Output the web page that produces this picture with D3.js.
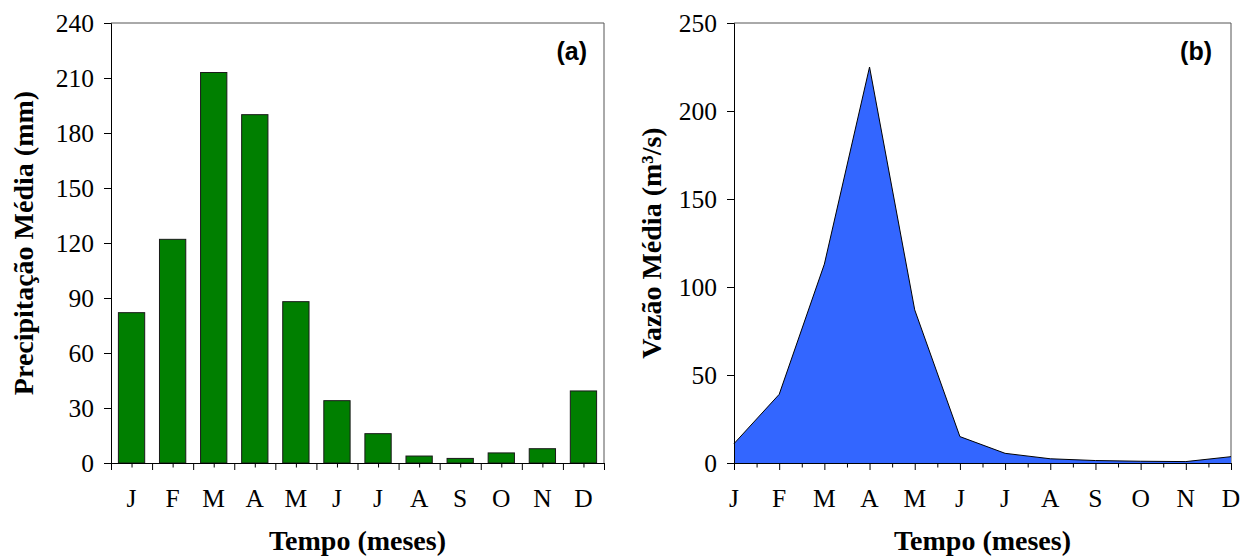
<!DOCTYPE html>
<html><head><meta charset="utf-8">
<script src="https://cdn.jsdelivr.net/npm/d3@7"></script>
<style>
html,body{margin:0;padding:0;background:#fff;}
svg{display:block;}
</style></head>
<body>
<svg id="chart" width="1240" height="556"></svg>
<script>
const months = ["J","F","M","A","M","J","J","A","S","O","N","D"];
const precip = [82, 122, 213, 190, 88, 34, 16, 3.8, 2.5, 5.5, 7.8, 39.3];
const flow = [11, 39, 113, 225, 87, 15, 5.5, 2.4, 1.4, 1.0, 0.8, 3.6];
const precipTicks = [0, 30, 60, 90, 120, 150, 180, 210, 240];
const flowTicks = [0, 50, 100, 150, 200, 250];

const svg = d3.select("#chart");
const serif = "'Liberation Serif','Times New Roman',serif";
const sans = "'Liberation Sans',Arial,sans-serif";
const FS = 25.5;
const TS = 28;

// ---------- Panel (a) ----------
const A = {l:111, r:604, t:23, b:463};
const idx = d3.range(12);
const xa = d3.scaleBand().domain(idx).range([A.l, A.r]).paddingInner(0.36).paddingOuter(0.18);
const xaEdge = d3.scaleLinear().domain([0,12]).range([A.l, A.r]);
const ya = d3.scaleLinear().domain([0,240]).range([A.b, A.t]);

const ga = svg.append("g");
ga.append("path").attr("d", `M${A.l},${A.t}H${A.r}V${A.b}`).attr("fill","none").attr("stroke","#555").attr("stroke-width",1);

ga.selectAll("rect.bar").data(precip).join("rect")
  .attr("class","bar")
  .attr("x",(d,i)=>xa(i))
  .attr("width",xa.bandwidth())
  .attr("y",d=>ya(d))
  .attr("height",d=>ya(0)-ya(d))
  .attr("fill","#007f00")
  .attr("stroke","#1a1a1a").attr("stroke-width",1);

const yAxA = ga.append("g").attr("transform",`translate(${A.l},0)`)
  .call(d3.axisLeft(ya).tickValues(precipTicks).tickSize(7).tickPadding(10));
yAxA.select(".domain").attr("stroke","#000");
yAxA.selectAll("text").attr("font-family",serif).attr("font-size",FS).attr("fill","#000").attr("dy","0.34em");

const xAxA = ga.append("g").attr("transform",`translate(0,${A.b})`)
  .call(d3.axisBottom(xaEdge).tickValues(d3.range(13)).tickSize(7).tickFormat(""));
xAxA.select(".domain").attr("stroke","#000");
ga.append("g").attr("transform",`translate(0,${A.b})`)
  .call(d3.axisBottom(xaEdge).tickValues(d3.range(12).map(i=>i+0.5)).tickSize(4.5).tickFormat(""))
  .call(g=>g.select(".domain").remove());
ga.selectAll("text.mlab").data(months).join("text").attr("class","mlab")
  .attr("x",(d,i)=>xaEdge(i+0.5)).attr("y",507)
  .attr("text-anchor","middle").attr("font-family",serif).attr("font-size",FS).text(d=>d);

ga.append("text").attr("x",(A.l+A.r)/2).attr("y",550).attr("text-anchor","middle")
  .attr("font-family",serif).attr("font-weight","bold").attr("font-size",TS).text("Tempo (meses)");
ga.append("text").attr("transform",`translate(33,${(A.t+A.b)/2}) rotate(-90)`).attr("text-anchor","middle")
  .attr("font-family",serif).attr("font-weight","bold").attr("font-size",TS).text("Precipitação Média (mm)");
ga.append("text").attr("x",587).attr("y",60).attr("text-anchor","end")
  .attr("font-family",sans).attr("font-weight","bold").attr("font-size",25).text("(a)");

// ---------- Panel (b) ----------
const B = {l:734, r:1231, t:23, b:463};
const xb = d3.scaleLinear().domain([0,11]).range([B.l, B.r]);
const yb = d3.scaleLinear().domain([0,250]).range([B.b, B.t]);
const gb = svg.append("g");
gb.append("path").attr("d", `M${B.l},${B.t}H${B.r}V${B.b}`).attr("fill","none").attr("stroke","#555").attr("stroke-width",1);

const area = d3.area().x((d,i)=>xb(i)).y0(yb(0)).y1(d=>yb(d));
const line = d3.line().x((d,i)=>xb(i)).y(d=>yb(d));
gb.append("path").datum(flow).attr("d",area).attr("fill","#3366ff");
gb.append("path").datum(flow).attr("d",line).attr("fill","none").attr("stroke","#000").attr("stroke-width",1);

const yAxB = gb.append("g").attr("transform",`translate(${B.l},0)`)
  .call(d3.axisLeft(yb).tickValues(flowTicks).tickSize(7).tickPadding(10));
yAxB.select(".domain").attr("stroke","#000");
yAxB.selectAll("text").attr("font-family",serif).attr("font-size",FS).attr("fill","#000").attr("dy","0.34em");

const xAxB = gb.append("g").attr("transform",`translate(0,${B.b})`)
  .call(d3.axisBottom(xb).tickValues(d3.range(12)).tickSize(7).tickFormat(""));
xAxB.select(".domain").attr("stroke","#000");
gb.append("g").attr("transform",`translate(0,${B.b})`)
  .call(d3.axisBottom(xb).tickValues(d3.range(11).map(i=>i+0.5)).tickSize(4.5).tickFormat(""))
  .call(g=>g.select(".domain").remove());
gb.selectAll("text.mlab").data(months).join("text").attr("class","mlab")
  .attr("x",(d,i)=>xb(i)).attr("y",507)
  .attr("text-anchor","middle").attr("font-family",serif).attr("font-size",FS).text(d=>d);

gb.append("text").attr("x",(B.l+B.r)/2).attr("y",550).attr("text-anchor","middle")
  .attr("font-family",serif).attr("font-weight","bold").attr("font-size",TS).text("Tempo (meses)");
gb.append("text").attr("transform",`translate(661,${(B.t+B.b)/2}) rotate(-90)`).attr("text-anchor","middle")
  .attr("font-family",serif).attr("font-weight","bold").attr("font-size",TS).text("Vazão Média (m³/s)");
gb.append("text").attr("x",1212).attr("y",60).attr("text-anchor","end")
  .attr("font-family",sans).attr("font-weight","bold").attr("font-size",25).text("(b)");
</script>
</body></html>
